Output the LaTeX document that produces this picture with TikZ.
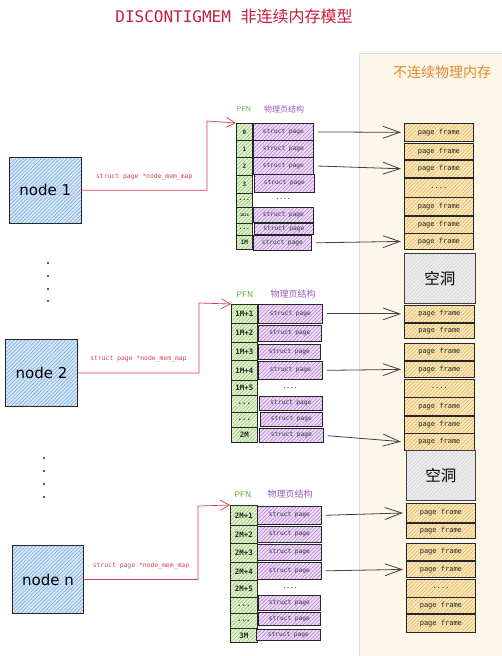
\documentclass[tikz,border=0pt]{standalone}
\usepackage{fontspec}
\setmainfont{DejaVu Sans}
\setmonofont{DejaVu Sans Mono}
\newfontfamily\cjk{Noto Sans CJK SC}
\usetikzlibrary{arrows.meta,patterns.meta,calc}

\definecolor{titlered}{HTML}{C41E3A}
\definecolor{linkred}{HTML}{D0424A}
\definecolor{panelbg}{HTML}{FDF7EA}
\definecolor{paneltitle}{HTML}{E8862A}
\definecolor{pfngreen}{HTML}{62A32E}
\definecolor{headpurple}{HTML}{9B59B6}
\definecolor{nodefill}{HTML}{D3E5F7}
\definecolor{nodeline}{HTML}{74A8DC}
\definecolor{pfnfill}{HTML}{E3F3D2}
\definecolor{pfnline}{HTML}{8CC46A}
\definecolor{pagefill}{HTML}{F0DBF8}
\definecolor{pageline}{HTML}{B07CD3}
\definecolor{framefill}{HTML}{FAE8BC}
\definecolor{frameline}{HTML}{DFB255}
\definecolor{holefill}{HTML}{EDEDED}
\definecolor{holeline}{HTML}{D0D0D0}

\def\fsz#1{\fontsize{#1}{#1}\selectfont}
\def\cellbox[#1](#2)(#3:#4)#5#6{\node[#1, anchor=north west, minimum width=#3pt, minimum height=#4pt] (#5) at (#2) {#6};}

\tikzset{
  hatch/.style 2 args={preaction={fill=#1}, pattern={Lines[angle=45,distance=2.6pt,line width=0.5pt]}, pattern color=#2},
  memnode/.style={draw=black!85, line width=0.9pt, hatch={nodefill}{nodeline}, inner sep=0pt, font=\fsz{15}},
  pfncell/.style={draw=black!85, line width=0.75pt, hatch={pfnfill}{pfnline}, inner sep=0pt, text=black!85, font=\ttfamily\bfseries\fsz{7.4}},
  pfnsmall/.style={font=\ttfamily\bfseries\fsz{6}},
  pagecell/.style={draw=black!85, line width=0.75pt, hatch={pagefill}{pageline}, inner sep=0pt, text=black!80, font=\ttfamily\fsz{6.2}},
  framecell/.style={draw=black!85, line width=0.75pt, hatch={framefill}{frameline}, inner sep=0pt, text=black!85, font=\ttfamily\fsz{7}},
  holecell/.style={draw=black!75, line width=0.8pt, hatch={holefill}{holeline}, inner sep=0pt, font=\cjk\fsz{15.5}},
  pfnhead/.style={text=pfngreen, font=\sffamily\fsz{8.5}},
  pagehead/.style={text=headpurple, font=\cjk\fsz{9}},
  maplink/.style={draw=linkred, line width=0.7pt, -{Straight Barb[length=9pt,width=10pt]}},
  maplabel/.style={pos=0.25, above=7pt, text=linkred, font=\ttfamily\fsz{6.4}},
  framelink/.style={draw=black!75, line width=0.8pt, shorten <=4pt, shorten >=3pt, -{Straight Barb[length=17pt,width=12pt,line width=0.8pt]}}
}

\begin{document}
\begin{tikzpicture}[x=1pt,y=-1pt]
	\useasboundingbox (0,0) rectangle (502,656);
	
	%%%%% title and panel %%%%%
	\node[font=\ttfamily\fsz{16}, text=titlered] (title) at (234,16) {DISCONTIGMEM {\cjk 非连续内存模型}};
	
	\draw[draw=black!12, fill=panelbg] (359,53) rectangle (504,658);
	\node[font=\cjk\fsz{14}, text=paneltitle] (ptitle) at (442,72) {不连续物理内存};
	
	%%%%% nodes %%%%%
	\cellbox[memnode](9,157)(72:66){n1}{node 1}
	\cellbox[memnode](5,339)(72:67){n2}{node 2}
	\cellbox[memnode](12,545)(71:68){nn}{node n}
	
	\fill[black!85] (48,263) circle (1.1) (48,276) circle (1.1) (48,289) circle (1.1) (48,301) circle (1.1);
	\fill[black!85] (44,458) circle (1.1) (44,471) circle (1.1) (44,484) circle (1.1) (44,497) circle (1.1);
	
	%%%%% node 1 %%%%%
	\node[pfnhead, font=\sffamily\fsz{7}] (pa) at (244,109) {PFN};
	\node[pagehead, font=\cjk\fsz{8}] (qa) at (284,109) {物理页结构};
	
	\cellbox[pfncell,pfnsmall](236,123)(16:17){a1}{0}
	\cellbox[pfncell,pfnsmall](236,140)(16:17){a2}{1}
	\cellbox[pfncell,pfnsmall](236,157)(16:18){a3}{2}
	\cellbox[pfncell,pfnsmall](236,175)(16:18){a4}{3}
	\cellbox[pfncell,pfnsmall](236,193)(16:14){a5}{...}
	\cellbox[pfncell,font=\ttfamily\bfseries\fsz{3.6}](236,207)(16:16){a6}{1024}
	\cellbox[pfncell,pfnsmall](236,223)(16:12){a7}{...}
	\cellbox[pfncell,pfnsmall](236,235)(16:14){a8}{1M}
	
	\cellbox[pagecell](253,123)(60:17){sa1}{struct page}
	\cellbox[pagecell](253,140)(60:17){sa2}{struct page}
	\cellbox[pagecell](253,157)(60:17){sa3}{struct page}
	\cellbox[pagecell](254,174)(60:18){sa4}{struct page}
	\node[font=\ttfamily\fsz{6.2}] (sa5) at (283,199) {....};
	\cellbox[pagecell](253,207)(60:15){sa6}{struct page}
	\cellbox[pagecell](254,223)(59:11){sa7}{struct page}
	\cellbox[pagecell](253,235)(58:15){sa8}{struct page}
	
	%%%%% node 2 %%%%%
	\node[pfnhead] (pb) at (245,295) {PFN};
	\node[pagehead] (qb) at (293,294) {物理页结构};
	
	\cellbox[pfncell](231,304)(26:19){b1}{1M+1}
	\cellbox[pfncell](231,323)(26:19){b2}{1M+2}
	\cellbox[pfncell](231,342)(26:18){b3}{1M+3}
	\cellbox[pfncell](231,360)(26:20){b4}{1M+4}
	\cellbox[pfncell](231,380)(26:15){b5}{1M+5}
	\cellbox[pfncell](231,395)(26:17){b6}{...}
	\cellbox[pfncell](231,412)(26:15){b7}{...}
	\cellbox[pfncell](231,427)(26:15){b8}{2M}
	
	\cellbox[pagecell](258,304)(64:19){sb1}{struct page}
	\cellbox[pagecell](258,325)(63:16){sb2}{struct page}
	\cellbox[pagecell](258,344)(62:15){sb3}{struct page}
	\cellbox[pagecell](258,361)(64:18){sb4}{struct page}
	\node[font=\ttfamily\fsz{6.2}] (sb5) at (290,388) {....};
	\cellbox[pagecell](259,396)(63:14){sb6}{struct page}
	\cellbox[pagecell](260,412)(62:14){sb7}{struct page}
	\cellbox[pagecell](259,428)(64:14){sb8}{struct page}
	
	%%%%% node n %%%%%
	\node[pfnhead] (pc) at (243,495) {PFN};
	\node[pagehead] (qc) at (290,494) {物理页结构};
	
	\cellbox[pfncell](230,505)(27:20){c1}{2M+1}
	\cellbox[pfncell](230,525)(27:18){c2}{2M+2}
	\cellbox[pfncell](230,543)(27:19){c3}{2M+3}
	\cellbox[pfncell](230,562)(27:18){c4}{2M+4}
	\cellbox[pfncell](230,580)(27:17){c5}{2M+5}
	\cellbox[pfncell](230,597)(27:16){c6}{...}
	\cellbox[pfncell](230,613)(27:15){c7}{...}
	\cellbox[pfncell](230,628)(27:14){c8}{3M}
	
	\cellbox[pagecell](257,506)(64:18){sc1}{struct page}
	\cellbox[pagecell](257,526)(64:16){sc2}{struct page}
	\cellbox[pagecell](257,544)(64:16){sc3}{struct page}
	\cellbox[pagecell](257,562)(64:17){sc4}{struct page}
	\node[font=\ttfamily\fsz{6.2}] (sc5) at (290,588) {....};
	\cellbox[pagecell](258,595)(62:15){sc6}{struct page}
	\cellbox[pagecell](258,612)(62:13){sc7}{struct page}
	\cellbox[pagecell](256,629)(64:11){sc8}{struct page}
	
	%%%%% page frames %%%%%
	\cellbox[framecell](404,123)(69:18){fa1}{page frame}
	\cellbox[framecell](404,143)(69:16){fa2}{page frame}
	\cellbox[framecell](404,160)(69:17){fa3}{page frame}
	\cellbox[framecell](404,178)(69:19){fa4}{....}
	\cellbox[framecell](404,197)(69:18){fa5}{page frame}
	\cellbox[framecell](404,216)(69:17){fa6}{page frame}
	\cellbox[framecell](404,233)(69:16){fa7}{page frame}
	
	\cellbox[holecell](404,253)(71:50){h1}{空洞}
	
	\cellbox[framecell](404,305)(70:17){fb1}{page frame}
	\cellbox[framecell](404,323)(70:15){fb2}{page frame}
	\cellbox[framecell](404,343)(70:17){fb3}{page frame}
	\cellbox[framecell](404,361)(70:16){fb4}{page frame}
	\cellbox[framecell](404,379)(70:18){fb5}{....}
	\cellbox[framecell](404,397)(70:18){fb6}{page frame}
	\cellbox[framecell](404,416)(70:17){fb7}{page frame}
	\cellbox[framecell](404,433)(70:17){fb8}{page frame}
	
	\cellbox[holecell](406,450)(69:50){h2}{空洞}
	
	\cellbox[framecell](406,503)(69:19){fc1}{page frame}
	\cellbox[framecell](406,523)(69:15){fc2}{page frame}
	\cellbox[framecell](406,543)(69:17){fc3}{page frame}
	\cellbox[framecell](406,561)(69:16){fc4}{page frame}
	\cellbox[framecell](406,579)(69:18){fc5}{....}
	\cellbox[framecell](406,597)(69:16){fc6}{page frame}
	\cellbox[framecell](406,614)(69:18){fc7}{page frame}
	
	%%%%% links %%%%%
	\draw[maplink] (n1.east) -| node[maplabel] {struct page *node\_mem\_map} ($(a1.north west)+(-29,-2)$) -- (a1.north west);
	\draw[maplink] (n2.east) -| node[maplabel] {struct page *node\_mem\_map} ($(b1.north west)+(-32,-1)$) -- (b1.north west);
	\draw[maplink] (nn.east) -| node[maplabel] {struct page *node\_mem\_map} ($(c1.north west)+(-32,1)$) -- (c1.north west);
	
	\draw[framelink] (sa1.east) -- (fa1.west);
	\draw[framelink] (sa3.east) -- (fa3.west);
	\draw[framelink] (sa8.east) -- (fa7.west);
	\draw[framelink] (sb1.east) -- (fb1.west);
	\draw[framelink] (sb4.east) -- (fb4.west);
	\draw[framelink] (sb8.east) -- (fb8.west);
	\draw[framelink] (sc1.east) -- (fc1.west);
	\draw[framelink] (sc4.east) -- (fc4.west);
	
\end{tikzpicture}
\end{document}
